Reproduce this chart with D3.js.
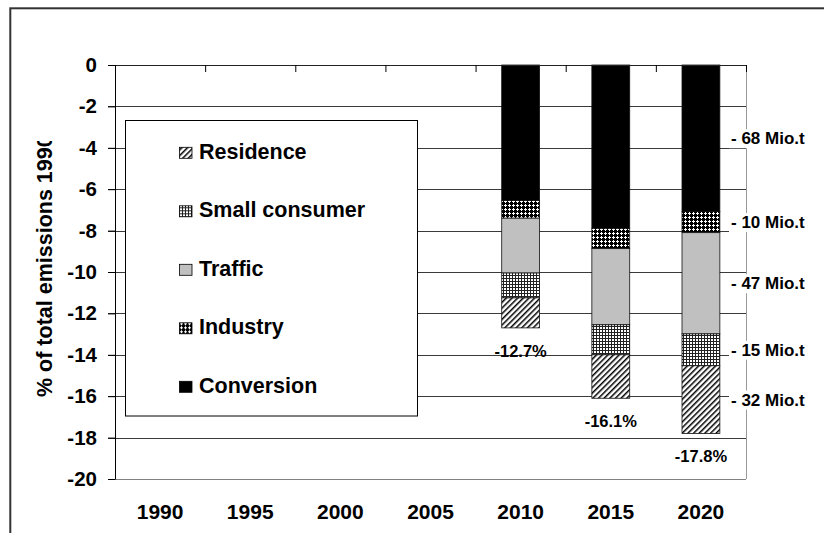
<!DOCTYPE html>
<html>
<head>
<meta charset="utf-8">
<script src="https://cdn.jsdelivr.net/npm/d3@7"></script>
<style>
  body { margin: 0; background: #fff; }
  svg { display: block; font-family: "Liberation Sans", Arial, sans-serif; font-weight: bold; }
  .axis text { font-family: "Liberation Sans", Arial, sans-serif; font-weight: bold; fill: #000; }
</style>
</head>
<body>
<div id="chart"></div>
<script>
// values (% of total emissions 1990)
const years = ['1990', '1995', '2000', '2005', '2010', '2015', '2020']
const conversion = [0, 0, 0, 0, -6.55, -7.89, -7.08]
const industry = [0, 0, 0, 0, -0.85, -0.98, -1.02]
const traffic = [0, 0, 0, 0, -2.65, -3.68, -4.89]
const smallConsumer = [0, 0, 0, 0, -1.2, -1.45, -1.54]
const residence = [0, 0, 0, 0, -1.45, -2.1, -3.27]

const totalYears = ['2010', '2015', '2020']
const totalLabels = ['-12.7%', '-16.1%', '-17.8%']
const mioLabels = ['- 68 Mio.t', '- 10 Mio.t', '- 47 Mio.t', '- 15 Mio.t', '- 32 Mio.t']
const legendNames = ['Residence', 'Small consumer', 'Traffic', 'Industry', 'Conversion']
const yTicks = [0, -2, -4, -6, -8, -10, -12, -14, -16, -18, -20]

const w = 824, h = 533
const pL = 115, pR = 746, pT = 65, pB = 479

// stack order from the top of the bar downward
const keys = ['Conversion', 'Industry', 'Traffic', 'Small consumer', 'Residence']
const rows = years.map((y, i) => ({
  year: y,
  'Conversion': conversion[i],
  'Industry': industry[i],
  'Traffic': traffic[i],
  'Small consumer': smallConsumer[i],
  'Residence': residence[i]
}))
const series = d3.stack().keys(keys).offset(d3.stackOffsetDiverging)(rows)
// for negative values d[1] is the upper end, d[0] the lower one
const upper = d => Math.max(d[0], d[1])
const lower = d => Math.min(d[0], d[1])

const svg = d3.select('#chart').append('svg').attr('width', w).attr('height', h)

// patterns
const defs = svg.append('defs')
const pRes = defs.append('pattern').attr('id', 'p-res').attr('patternUnits', 'userSpaceOnUse')
  .attr('width', 4).attr('height', 4).attr('patternTransform', 'rotate(45)')
pRes.append('rect').attr('width', 4).attr('height', 4).attr('fill', '#fff')
pRes.append('rect').attr('width', 1.5).attr('height', 4).attr('fill', '#000')

// fine grid
const pSmall = defs.append('pattern').attr('id', 'p-small').attr('patternUnits', 'userSpaceOnUse')
  .attr('width', 3).attr('height', 3)
pSmall.append('rect').attr('width', 3).attr('height', 3).attr('fill', '#fff')
pSmall.append('rect').attr('y', 2).attr('width', 3).attr('height', 1).attr('fill', '#222')
pSmall.append('rect').attr('x', 2).attr('width', 1).attr('height', 3).attr('fill', '#222')

// black with white crosses
const pInd = defs.append('pattern').attr('id', 'p-ind').attr('patternUnits', 'userSpaceOnUse')
  .attr('width', 4).attr('height', 4)
pInd.append('rect').attr('width', 4).attr('height', 4).attr('fill', '#000')
pInd.append('rect').attr('x', 0).attr('y', 1).attr('width', 3).attr('height', 1).attr('fill', '#fff')
pInd.append('rect').attr('x', 1).attr('y', 0).attr('width', 1).attr('height', 3).attr('fill', '#fff')

const fills = {
  'Conversion': '#000',
  'Industry': 'url(#p-ind)',
  'Traffic': '#c0c0c0',
  'Small consumer': 'url(#p-small)',
  'Residence': 'url(#p-res)'
}

defs.append('clipPath').attr('id', 'title-clip')
  .append('rect').attr('x', 0).attr('y', 141).attr('width', 100).attr('height', 400)

// outer frame
svg.append('rect')
  .attr('x', 10.3).attr('y', 8.3).attr('width', 840).attr('height', 560)
  .attr('fill', 'none').attr('stroke', '#333').attr('stroke-width', 2)

const xScale = d3.scaleBand().domain(years).range([pL, pR])
const xEdge = d3.scaleLinear().domain([0, years.length]).range([pL, pR])
const yScale = d3.scaleLinear().domain([-20, 0]).range([pB, pT])
const barW = xScale.bandwidth() * 0.42

// grid lines
svg.append('g').selectAll('line')
  .data(yTicks.filter(d => d !== 0 && d !== -20))
  .enter().append('line')
  .attr('x1', pL - 7).attr('x2', pR)
  .attr('y1', d => Math.round(yScale(d)) + 0.5).attr('y2', d => Math.round(yScale(d)) + 0.5)
  .attr('stroke', '#3a3a3a')

// bottom and right border of the plot area
svg.append('line')
  .attr('x1', pL - 7).attr('x2', pR)
  .attr('y1', Math.round(yScale(-20)) + 0.5).attr('y2', Math.round(yScale(-20)) + 0.5)
  .attr('stroke', '#808080').attr('stroke-width', 1.2)
svg.append('line')
  .attr('x1', pR + 0.5).attr('x2', pR + 0.5)
  .attr('y1', yScale(0)).attr('y2', yScale(-20))
  .attr('stroke', '#999')

// bars
svg.append('g').selectAll('g')
  .data(series)
  .enter().append('g')
  .attr('fill', d => fills[d.key])
  .selectAll('rect')
  .data(d => d.filter(v => v[0] !== v[1]))
  .enter().append('rect')
  .attr('x', d => xScale(d.data.year) + xScale.bandwidth() / 2 - barW / 2)
  .attr('y', d => yScale(upper(d)))
  .attr('width', barW)
  .attr('height', d => yScale(lower(d)) - yScale(upper(d)))
  .attr('stroke', '#111').attr('stroke-width', 0.8)

// top category line with ticks between the years
svg.append('g').attr('class', 'axis')
  .attr('transform', 'translate(0,' + yScale(0) + ')')
  .call(d3.axisBottom(xEdge).tickValues(d3.range(years.length + 1)).tickSize(7).tickSizeOuter(0).tickFormat(''))
  .call(g => g.select('.domain').attr('stroke', '#222').attr('d', 'M' + (pL - 7) + ',0.5H' + pR))

// year labels at the bottom
svg.append('g').attr('class', 'axis')
  .attr('transform', 'translate(0,' + pB + ')')
  .call(d3.axisBottom(xScale).tickSize(0).tickPadding(25))
  .call(g => g.select('.domain').remove())
  .selectAll('text').style('font-size', '21px')

// y axis
svg.append('g').attr('class', 'axis')
  .attr('transform', 'translate(' + pL + ',0)')
  .call(d3.axisLeft(yScale).tickValues(yTicks).tickSize(7).tickSizeOuter(0).tickPadding(11)
    .tickFormat(d => String(d)))
  .call(g => g.select('.domain').attr('stroke', '#000'))
  .call(g => g.selectAll('.tick line').attr('stroke', '#000'))
  .selectAll('text').style('font-size', '20.5px')

// y title, cut off at the top like in the original
svg.append('g').attr('clip-path', 'url(#title-clip)')
  .append('text')
  .attr('transform', 'translate(52,397) rotate(-90)')
  .attr('text-anchor', 'start')
  .style('font-size', '21.5px')
  .text('% of total emissions 1990')

// total labels below the bars
const totals = totalYears.map(y => series[series.length - 1].find(d => d.data.year === y))
svg.append('g').selectAll('text')
  .data(totals)
  .enter().append('text')
  .attr('x', d => xScale(d.data.year) + xScale.bandwidth() / 2)
  .attr('y', d => yScale(lower(d)) + 29)
  .attr('text-anchor', 'middle')
  .style('font-size', '16.5px')
  .text((d, i) => totalLabels[i])

// Mio.t labels next to the 2020 bar
const last = years[years.length - 1]
const mio = svg.append('g').selectAll('g')
  .data(series)
  .enter().append('g')
  .attr('transform', d => {
    const v = d.find(p => p.data.year === last)
    return 'translate(731,' + (yScale(v[0]) + yScale(v[1])) / 2 + ')'
  })
mio.append('rect').attr('fill', '#fff')
mio.append('text')
  .attr('dy', '0.35em')
  .style('font-size', '17px')
  .text((d, i) => mioLabels[i])
mio.each(function () {
  const b = d3.select(this).select('text').node().getBBox()
  d3.select(this).select('rect')
    .attr('x', b.x - 2).attr('y', b.y).attr('width', b.width + 4).attr('height', b.height)
})

// legend
const lg = svg.append('g')
lg.append('rect')
  .attr('x', 125.5).attr('y', 120.5).attr('width', 292).attr('height', 295.5)
  .attr('fill', '#fff').attr('stroke', '#000')
const item = lg.selectAll('g')
  .data(legendNames)
  .enter().append('g')
  .attr('transform', (d, i) => 'translate(0,' + (158.8 + i * 58.5) + ')')
item.append('rect')
  .attr('x', 179.5).attr('y', -11.5).attr('width', 12.5).attr('height', 11)
  .attr('fill', d => fills[d]).attr('stroke', '#000').attr('stroke-width', 0.8)
item.append('text')
  .attr('x', 199)
  .style('font-size', '21.5px')
  .text(d => d)
</script>
</body>
</html>
